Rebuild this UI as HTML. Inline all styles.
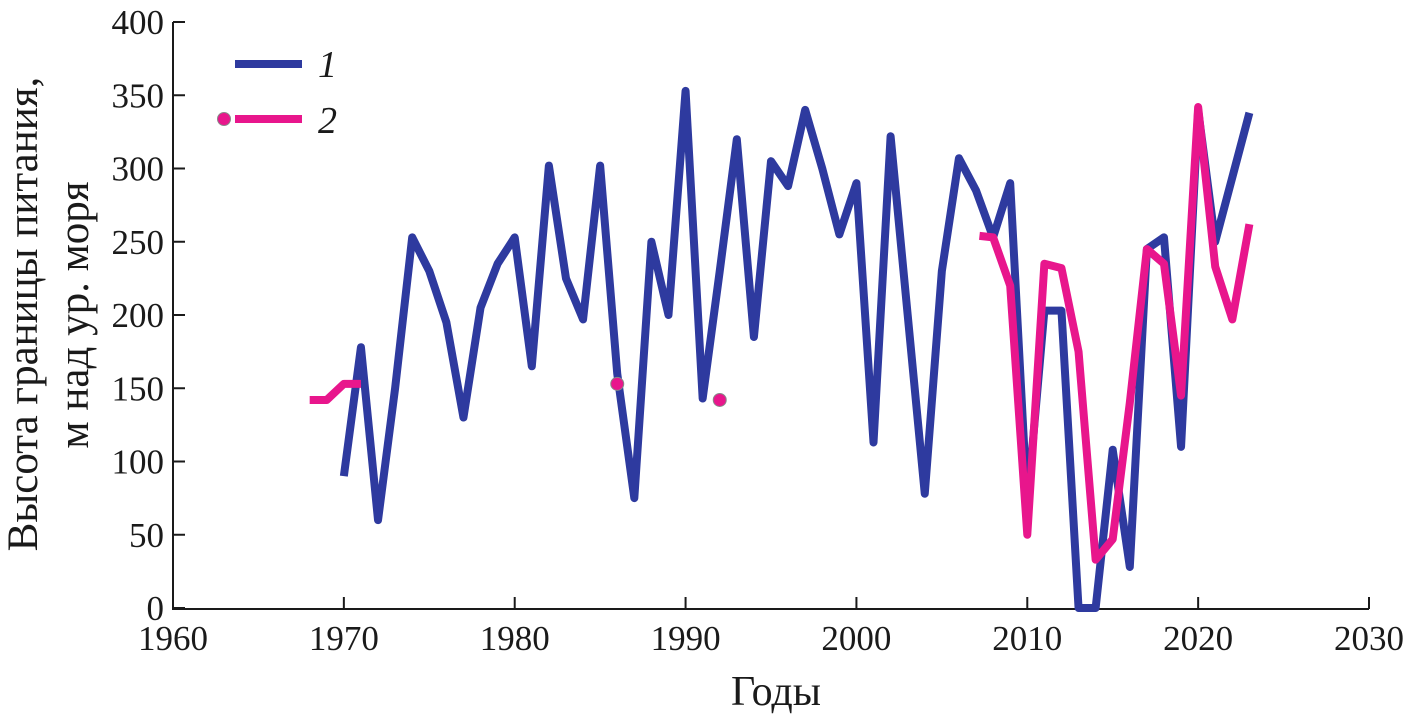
<!DOCTYPE html>
<html><head><meta charset="utf-8"><style>
body{margin:0;background:#fff}
svg text{font-family:"Liberation Serif",serif;fill:#1a1a1a}
</style></head><body>
<svg id="c" width="1411" height="718" xmlns="http://www.w3.org/2000/svg"></svg>
<script>
const blueYears=[1970,1971,1972,1973,1974,1975,1976,1977,1978,1979,1980,1981,1982,1983,1984,1985,1986,1987,1988,1989,1990,1991,1992,1993,1994,1995,1996,1997,1998,1999,2000,2001,2002,2003,2004,2005,2006,2007,2008,2009,2010,2011,2012,2013,2014,2015,2016,2017,2018,2019,2020,2021,2022,2023];
const blueValues=[90,178,60,150,253,230,195,130,205,235,253,165,302,225,197,302,160,75,250,200,353,143,230,320,185,305,288,340,300,255,290,113,322,200,78,230,307,285,253,290,70,203,203,0,0,108,28,245,253,110,340,250,294,338];
const pinkYears1=[1968,1969,1970,1971];
const pinkValues1=[142,142,153,153];
const pinkDotYears=[1986,1992];
const pinkDotValues=[153,142];
const pinkYears2=[2007.2,2008,2009,2010,2011,2012,2013,2014,2015,2016,2017,2018,2019,2020,2021,2022,2023];
const pinkValues2=[254,253,220,50,235,232,175,33,47,140,245,235,145,342,233,197,262];
const xTicks=[1960,1970,1980,1990,2000,2010,2020,2030];
const yTicks=[0,50,100,150,200,250,300,350,400];
const NS="http://www.w3.org/2000/svg";
const svg=document.getElementById('c');
const X=v=>173+(v-1960)*(1369-173)/70;
const Y=v=>608-v*(608-22)/400;
function mk(t,a,p){const e=document.createElementNS(NS,t);for(const k in a)e.setAttribute(k,a[k]);(p||svg).appendChild(e);return e;}
let ax=mk('path',{d:`M173,22 L173,609 L1369,609`,fill:'none',stroke:'#1a1a1a','stroke-width':2});


xTicks.forEach(t=>{
 const l=mk('line',{x1:X(t),x2:X(t),y1:609,y2:597,stroke:'#1a1a1a','stroke-width':2});
 
 
 const tx=mk('text',{x:X(t),y:650,'text-anchor':'middle','font-size':35});
 tx.textContent=t;
 
 
});
yTicks.forEach(t=>{
 const l=mk('line',{x1:173,x2:185,y1:Y(t),y2:Y(t),stroke:'#1a1a1a','stroke-width':2});
 
 
 const tx=mk('text',{x:164,y:Y(t)+12,'text-anchor':'end','font-size':35});
 tx.textContent=t;
 
 
});
function line(xs,ys,col,name){
 const p=mk('polyline',{points:xs.map((x,i)=>X(x)+','+Y(ys[i])).join(' '),fill:'none',stroke:col,'stroke-width':8,'stroke-linejoin':'round'});
 
 
}
line(blueYears,blueValues,'#2e3a9f','series-1-line');
line(pinkYears1,pinkValues1,'#e8168c','series-2-line-early');
line(pinkYears2,pinkValues2,'#e8168c','series-2-line-late');
pinkDotYears.forEach((y,i)=>{
 const c=mk('circle',{cx:X(y),cy:Y(pinkDotValues[i]),r:6.5,fill:'#e8168c',stroke:'#888','stroke-width':1});
 
 
});
let g=mk('g',{});


let e=mk('line',{x1:235,x2:302,y1:64,y2:64,stroke:'#2e3a9f','stroke-width':8},g);


e=mk('text',{x:318,y:77,'font-size':38,'font-style':'italic'},g);e.textContent='1';


e=mk('line',{x1:235,x2:302,y1:119,y2:119,stroke:'#e8168c','stroke-width':8},g);


e=mk('circle',{cx:224,cy:119,r:6.5,fill:'#e8168c',stroke:'#888','stroke-width':1},g);


e=mk('text',{x:318,y:133,'font-size':38,'font-style':'italic'},g);e.textContent='2';


e=mk('text',{x:776,y:705,'text-anchor':'middle','font-size':42});e.textContent='Годы';


e=mk('text',{x:0,y:0,'text-anchor':'middle','font-size':43,transform:'translate(37,314) rotate(-90)'});e.textContent='Высота границы питания,';


e=mk('text',{x:0,y:0,'text-anchor':'middle','font-size':43,transform:'translate(88,315) rotate(-90)'});e.textContent='м над ур. моря';


</script>
</body></html>
